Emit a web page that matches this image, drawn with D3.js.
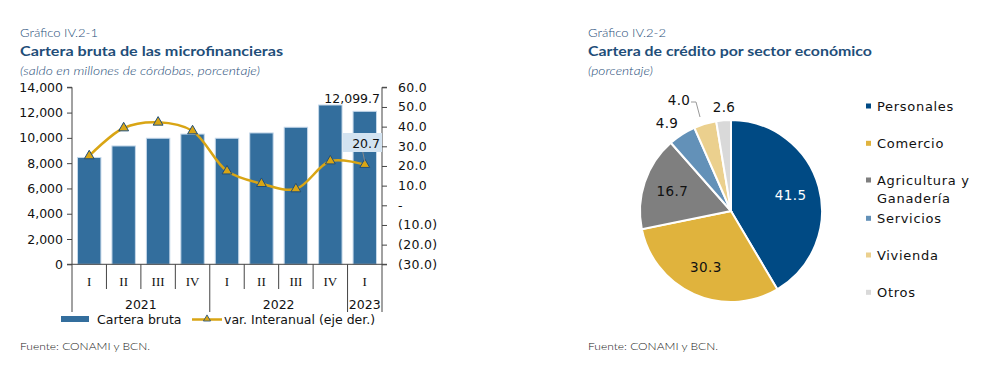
<!DOCTYPE html>
<html><head><meta charset="utf-8">
<script src="https://cdn.jsdelivr.net/npm/d3@7"></script>
<style>
body{margin:0;background:#fff;}
svg{display:block;}
</style></head>
<body>
<svg id="c" width="992" height="372"></svg>
<script>
// ---- Data ----
const quarters = ["I","II","III","IV","I","II","III","IV","I"];
const years = [{label:"2021", n:4},{label:"2022", n:4},{label:"2023", n:1}];
const carteraBruta = [8450, 9360, 9970, 10300, 9970, 10390, 10840, 12600, 12099.7];
const varInteranual = [25.1, 39.3, 42.2, 37.8, 17.4, 11.0, 8.3, 22.5, 20.7];
const leftTicks = [0,2000,4000,6000,8000,10000,12000,14000];
const rightTicks = [-30,-20,-10,0,10,20,30,40,50,60];

const sectores = ["Personales","Comercio","Agricultura y Ganadería","Servicios","Vivienda","Otros"];
const participacion = [41.5, 30.3, 16.7, 4.9, 4.0, 2.6];
const sectorColors = ["#004A84","#E0B33D","#7F7F7F","#6391B8","#EBD08E","#D9D9D9"];

const svg = d3.select("#c");
const titleCol = "#1F4E79";
const axisFont = "DejaVu Sans, Verdana, sans-serif";
const titleFont = "Lato, 'Open Sans', sans-serif";

function titles(x, a, b, c, wa, wb, wc){
  svg.append("text").attr("x",x).attr("y",37).attr("fill",titleCol).attr("font-weight",300)
    .attr("font-family",titleFont).attr("font-size",11.5).attr("textLength",wa).attr("lengthAdjust","spacingAndGlyphs").text(a);
  svg.append("text").attr("x",x).attr("y",56).attr("fill",titleCol).attr("font-weight","bold")
    .attr("font-family",titleFont).attr("font-size",13.5).attr("textLength",wb).attr("lengthAdjust","spacingAndGlyphs").text(b);
  svg.append("text").attr("x",x).attr("y",75).attr("fill",titleCol).attr("font-style","italic").attr("font-weight",300)
    .attr("font-family",titleFont).attr("font-size",11.5).attr("textLength",wc).attr("lengthAdjust","spacingAndGlyphs").text(c);
}
titles(20,"Gráfico IV.2-1","Cartera bruta de las microfinancieras","(saldo en millones de córdobas, porcentaje)",78,263,240);
titles(588,"Gráfico IV.2-2","Cartera de crédito por sector económico","(porcentaje)",78,284,65);

function fuente(x){
  svg.append("text").attr("x",x).attr("y",350).attr("fill","#222").attr("font-weight",300)
    .attr("font-family",titleFont).attr("font-size",10).attr("textLength",130).attr("lengthAdjust","spacingAndGlyphs")
    .text("Fuente: CONAMI y BCN.");
}
fuente(20); fuente(588);

// ---- Left chart ----
const x0 = 72, x1 = 382, yTop = 87.3, yBase = 264.3;
const x = d3.scaleBand().domain(d3.range(quarters.length)).range([x0,x1]).paddingInner(0.32).paddingOuter(0.16);
const yL = d3.scaleLinear().domain([0,14000]).range([yBase,yTop]);
const yR = d3.scaleLinear().domain([-30,60]).range([yBase,yTop]);

const g = svg.append("g");
g.selectAll("rect.bar").data(carteraBruta).join("rect")
  .attr("x",(d,i)=>x(i)).attr("y",d=>yL(d)).attr("width",x.bandwidth())
  .attr("height",d=>yBase-yL(d)).attr("fill","#336E9D").attr("stroke","#C5D8EA").attr("stroke-width",1);

const axL = d3.axisLeft(yL).tickValues(leftTicks).tickSize(5).tickPadding(4)
  .tickFormat(d3.format(","));
const gl = svg.append("g").attr("transform",`translate(${x0},0)`).call(axL);
gl.select(".domain").attr("stroke","#444").attr("d",`M-5,${yTop}H0V${yBase}`);
gl.selectAll(".tick line").attr("stroke","#444");
gl.selectAll("text").attr("font-family",axisFont).attr("font-size",12.5).attr("fill","#111");

const fmtR = d => d===0 ? "-" : (d<0 ? "("+d3.format(".1f")(-d)+")" : d3.format(".1f")(d));
const axR = d3.axisRight(yR).tickValues(rightTicks).tickSize(5).tickPadding(11).tickFormat(fmtR);
const gr = svg.append("g").attr("transform",`translate(${x1},0)`).call(axR);
gr.select(".domain").attr("stroke","#444").attr("d",`M5,${yTop}H0V${yBase}`);
gr.selectAll(".tick line").attr("stroke","#444");
gr.selectAll("text").attr("font-family",axisFont).attr("font-size",12.5).attr("fill","#111").attr("letter-spacing",0.3);

svg.append("line").attr("x1",x0-5).attr("x2",x1+5).attr("y1",yBase).attr("y2",yBase).attr("stroke","#444");

const bw = (x1-x0)/quarters.length;
let yearStarts = [0]; let acc=0; years.forEach(y=>{acc+=y.n; yearStarts.push(acc);});
d3.range(quarters.length+1).forEach(i=>{
  const xx = x0 + i*bw;
  const full = yearStarts.includes(i);
  svg.append("line").attr("x1",xx).attr("x2",xx).attr("y1",yBase).attr("y2",full?312:289).attr("stroke","#444");
});
svg.selectAll("text.q").data(quarters).join("text")
  .attr("x",(d,i)=>x0+(i+0.5)*bw).attr("y",286).attr("text-anchor","middle")
  .attr("font-family","Liberation Serif, Times New Roman, serif").attr("font-size",13).attr("fill","#111").text(d=>d);
years.forEach((yr,k)=>{
  const s = yearStarts[k], e = yearStarts[k+1];
  svg.append("text").attr("x",x0+(s+e)/2*bw).attr("y",309).attr("text-anchor","middle")
    .attr("font-family",axisFont).attr("font-size",12.5).attr("fill","#111").text(yr.label);
});

const cx = (i)=>x(i)+x.bandwidth()/2;
const line = d3.line().x((d,i)=>cx(i)).y(d=>yR(d)).curve(d3.curveCatmullRom.alpha(0.5));
svg.append("path").datum(varInteranual).attr("d",line).attr("fill","none").attr("stroke","#D9A514").attr("stroke-width",2.5);
const tri = d3.symbol().type(d3.symbolTriangle).size(42);
svg.selectAll("path.m").data(varInteranual).join("path")
  .attr("transform",(d,i)=>`translate(${cx(i)},${yR(d)})`).attr("d",tri)
  .attr("fill","#D9A514").attr("stroke","#1F4E79").attr("stroke-width",1);

const last = carteraBruta.length-1;
svg.append("text").attr("x",380).attr("y",103).attr("text-anchor","end")
  .attr("font-family",axisFont).attr("font-size",12.5).attr("fill","#111").text(d3.format(",.1f")(carteraBruta[last]));
svg.append("rect").attr("x",343).attr("y",133).attr("width",39).attr("height",19).attr("fill","#D3E3F1");
svg.append("line").attr("x1",cx(last)-2).attr("y1",152).attr("x2",cx(last)).attr("y2",yR(varInteranual[last])-3).attr("stroke","#888").attr("stroke-width",1);
svg.append("text").attr("x",380).attr("y",147.5).attr("text-anchor","end")
  .attr("font-family",axisFont).attr("font-size",12.5).attr("fill","#111").text(d3.format(".1f")(varInteranual[last]));

svg.append("rect").attr("x",61).attr("y",316).attr("width",28).attr("height",6).attr("fill","#336E9D");
svg.append("text").attr("x",97).attr("y",324).attr("font-family",axisFont).attr("font-size",12.5).attr("fill","#111").text("Cartera bruta");
svg.append("line").attr("x1",192).attr("x2",222).attr("y1",319.5).attr("y2",319.5).attr("stroke","#D9A514").attr("stroke-width",2.5);
svg.append("path").attr("transform","translate(207,319)").attr("d",d3.symbol().type(d3.symbolTriangle).size(22))
  .attr("fill","#D9A514").attr("stroke","#1F4E79").attr("stroke-width",0.8);
svg.append("text").attr("x",224).attr("y",324).attr("font-family",axisFont).attr("font-size",12.5).attr("fill","#111").text("var. Interanual (eje der.)");

// ---- Pie chart ----
const pcx = 731, pcy = 211, R = 91;
const pie = d3.pie().sort(null).value(d=>d)(participacion);
const arc = d3.arc().innerRadius(0).outerRadius(R);
const pg = svg.append("g").attr("transform",`translate(${pcx},${pcy})`);
pg.selectAll("path").data(pie).join("path").attr("d",arc)
  .attr("fill",(d,i)=>sectorColors[i]).attr("stroke","#fff").attr("stroke-width",2);

const labelArc = d3.arc().innerRadius(R*0.68).outerRadius(R*0.68);
pie.forEach((d,i)=>{
  let tx, ty, col = "#111";
  if(i<3){ const p = labelArc.centroid(d); tx=pcx+p[0]; ty=pcy+p[1]; if(i===0) col="#fff"; }
  else if(i===3){ tx=667; ty=123; }
  else if(i===4){ tx=679; ty=100; }
  else { tx=724; ty=107; }
  svg.append("text").attr("x",tx).attr("y",ty).attr("dy","0.36em").attr("text-anchor","middle")
    .attr("font-family",axisFont).attr("font-size",13.5).attr("letter-spacing",0.4).attr("fill",col)
    .text(d3.format(".1f")(participacion[i]));
});
svg.append("path").attr("d","M691,102H696L700,117").attr("fill","none").attr("stroke","#999").attr("stroke-width",1);

const legY = [106,143.3,180,218.3,255,292.3];
sectores.forEach((s,i)=>{
  svg.append("rect").attr("x",866).attr("y",legY[i]-2.5).attr("width",5).attr("height",5).attr("fill",sectorColors[i]);
  const t = svg.append("text").attr("x",877).attr("y",legY[i]).attr("dy","0.36em")
    .attr("font-family",axisFont).attr("font-size",13).attr("letter-spacing",0.7).attr("fill","#111");
  if(s==="Agricultura y Ganadería"){
    t.append("tspan").attr("x",877).text("Agricultura y");
    t.append("tspan").attr("x",877).attr("dy","1.4em").text("Ganadería");
  } else t.text(s);
});
</script>
</body></html>
